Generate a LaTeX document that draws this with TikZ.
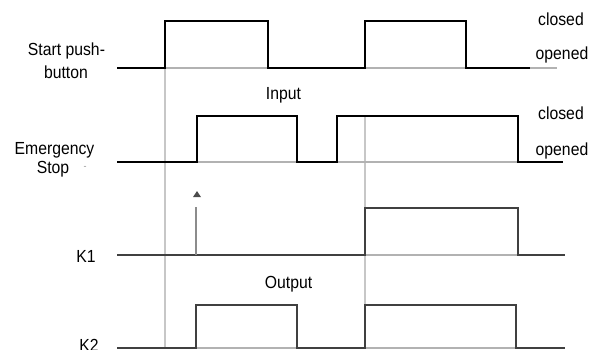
\documentclass[tikz,border=0pt]{standalone}
\usepackage{fontspec}
\setmainfont{Liberation Sans}[FakeStretch=0.9]
\begin{document}
\begin{tikzpicture}[x=1pt,y=-1pt,
  lbl/.style={inner sep=0pt,anchor=base,font=\fontsize{17.5}{20}\selectfont},
  sig/.style={line width=2.8pt,black,line join=miter},
  sigk/.style={line width=2.8pt,black!75,line join=miter},
  base/.style={line width=1.8pt,black!30},
  guide/.style={line width=1.8pt,black!22}]
\useasboundingbox (0,0) rectangle (600,349);
% guide lines
\draw[guide] (165,68) -- (165,349);
\draw[guide] (365,116) -- (365,349);
% baselines
\draw[base] (117,68) -- (557,68);
\draw[base] (117,162) -- (563,162);
\draw[base] (117,255) -- (565,255);
\draw[base] (117,348) -- (565,348);
% Start push-button
\draw[sig] (117,68) -- (165,68) -- (165,21) -- (268,21) -- (268,68) -- (365,68) -- (365,21) -- (466,21) -- (466,68) -- (530,68);
% Emergency stop
\draw[sig] (117,162) -- (197,162) -- (197,116) -- (297,116) -- (297,162) -- (337,162) -- (337,116) -- (518,116) -- (518,162) -- (563,162);
% K1
\draw[sigk] (117,255) -- (365,255) -- (365,208) -- (518,208) -- (518,255) -- (565,255);
\draw[line width=1.5pt,black!45] (196,255) -- (196,207);
\fill[black!70] (193,197) -- (197,191) -- (201,197) -- cycle;
% K2
\draw[sigk] (117,348) -- (196,348) -- (196,305) -- (297,305) -- (297,348) -- (365,348) -- (365,305) -- (516,305) -- (516,348) -- (565,348);
% labels
\node[lbl] (s1) at (66.5,55) {Start push-};
\node[lbl] (s2) at (66,78) {button};
\node[lbl] (e1) at (54.5,154) {Emergency};
\node[lbl] (e2) at (53,173) {Stop};
\node[inner sep=0pt,anchor=center,font=\fontsize{10}{10}\selectfont,text=black!40] (e3) at (85,168) {-};
\node[lbl] (k1) at (86,262) {K1};
\node[lbl] (k2) at (89,351) {K2};
\node[lbl] (in) at (283.5,99) {Input};
\node[lbl] (out) at (288.5,288) {Output};
\node[lbl] (c1) at (561,25) {closed};
\node[lbl] (o1) at (562,59) {opened};
\node[lbl] (c2) at (561,119) {closed};
\node[lbl] (o2) at (562,155) {opened};
\end{tikzpicture}
\end{document}
